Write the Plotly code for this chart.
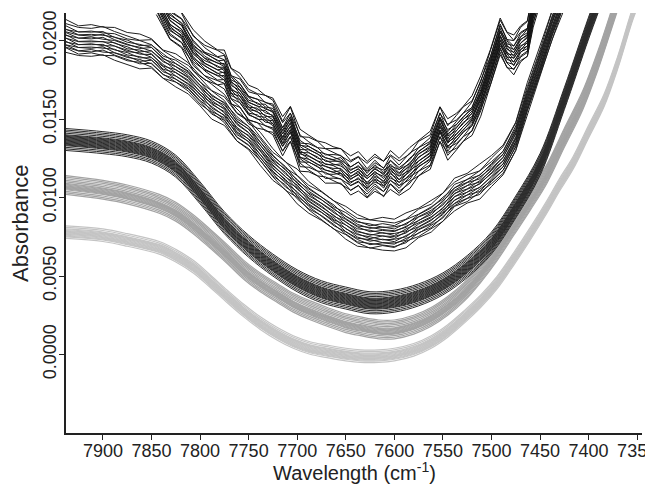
import plotly.graph_objects as go

# ---- Group 1 (top, noisy black spectra) ----
w1 = [7845, 7831, 7819, 7807, 7795, 7782, 7775, 7768, 7759, 7750, 7741, 7733, 7725, 7715,
      7707, 7697, 7688, 7679, 7671, 7663, 7655, 7645, 7637, 7628, 7620, 7611, 7604, 7595,
      7584, 7575, 7563, 7553, 7545, 7536, 7529, 7520, 7511, 7501, 7491, 7484, 7477, 7470,
      7463, 7457, 7450]
a1 = [0.0228, 0.0213, 0.0205, 0.0194, 0.0189, 0.0182, 0.0180, 0.0172, 0.0167, 0.0161,
      0.0156, 0.0154, 0.0150, 0.0140, 0.0146, 0.0132, 0.0128, 0.0124, 0.0123, 0.0119,
      0.0120, 0.0115, 0.0116, 0.0113, 0.0115, 0.0112, 0.0116, 0.0114, 0.0119, 0.0124,
      0.0131, 0.0145, 0.0138, 0.0142, 0.0146, 0.0154, 0.0164, 0.0183, 0.0201, 0.0195,
      0.0191, 0.0197, 0.0203, 0.0220, 0.0235]
j1a = [0.0001, -0.0001, 0.0002, 0.0000, -0.0002, 0.0001, 0.0002, -0.0001, 0.0000, -0.0002,
       0.0001, 0.0000, 0.0002, -0.0001, 0.0001, -0.0002, 0.0000, 0.0001, -0.0001, 0.0002,
       0.0000, -0.0001, 0.0001, -0.0002, 0.0001, 0.0000, 0.0002, -0.0001, 0.0000, 0.0001,
       -0.0001, 0.0002, -0.0001, 0.0000, 0.0001, -0.0002, 0.0001, 0.0000, 0.0002, -0.0001,
       0.0000, 0.0001, -0.0002, 0.0001, 0.0000]
j1b = [-0.0001, 0.0002, 0.0001, -0.0003, 0.0000, 0.0002, -0.0002, 0.0003, -0.0001, 0.0000,
       -0.0002, 0.0003, 0.0000, -0.0001, 0.0002, -0.0003, 0.0001, 0.0002, -0.0002, 0.0000,
       0.0003, -0.0001, -0.0002, 0.0002, 0.0000, 0.0003, -0.0002, 0.0001, -0.0003, 0.0002,
       0.0000, 0.0002, -0.0003, 0.0001, 0.0002, -0.0001, -0.0003, 0.0002, 0.0000, 0.0003,
       -0.0002, 0.0001, 0.0003, -0.0001, 0.0000]

# ---- Group 2 (second black band, moderately noisy) ----
w2 = [7938, 7925, 7912, 7900, 7888, 7875, 7862, 7850, 7838, 7825, 7812, 7800, 7788, 7775,
      7762, 7750, 7738, 7725, 7712, 7700, 7688, 7675, 7662, 7650, 7638, 7625, 7612, 7600,
      7588, 7575, 7562, 7550, 7538, 7525, 7512, 7500, 7488, 7475, 7463, 7450, 7438, 7426]
a2 = [0.0202, 0.0200, 0.0201, 0.0199, 0.0197, 0.0196, 0.0193, 0.0191, 0.0186, 0.0181,
      0.0175, 0.0169, 0.0161, 0.0155, 0.0146, 0.0139, 0.0131, 0.0122, 0.0113, 0.0107,
      0.0101, 0.0094, 0.0089, 0.0083, 0.0080, 0.0077, 0.0076, 0.0077, 0.0079, 0.0083,
      0.0089, 0.0094, 0.0101, 0.0106, 0.0111, 0.0116, 0.0124, 0.0140, 0.0162, 0.0186,
      0.0208, 0.0230]
j2a = [0.0001, 0.0000, -0.0001, 0.0001, 0.0001, -0.0001, 0.0000, 0.0001, -0.0001, 0.0000,
       0.0001, -0.0001, 0.0000, 0.0001, -0.0001, 0.0001, 0.0000, -0.0001, 0.0001, 0.0000,
       -0.0001, 0.0001, 0.0000, 0.0001, -0.0001, 0.0000, 0.0001, -0.0001, 0.0000, 0.0001,
       -0.0001, 0.0000, 0.0001, 0.0000, -0.0001, 0.0001, 0.0000, -0.0001, 0.0001, 0.0000,
       0.0001, -0.0001]
j2b = [-0.0001, 0.0001, 0.0000, 0.0002, -0.0001, 0.0000, -0.0002, 0.0001, 0.0002, -0.0001,
       0.0000, 0.0001, -0.0002, 0.0000, 0.0002, 0.0001, -0.0001, 0.0000, 0.0002, -0.0002,
       0.0000, 0.0001, 0.0002, -0.0001, 0.0000, 0.0002, -0.0001, 0.0000, -0.0002, 0.0001,
       0.0000, 0.0002, -0.0001, 0.0001, -0.0002, 0.0000, 0.0001, 0.0002, -0.0001, 0.0000,
       0.0002, -0.0001]

# ---- Group 3 (dense dark band, smooth) ----
w3 = [7938, 7900, 7875, 7850, 7825, 7800, 7775, 7750, 7725, 7700, 7675, 7650, 7625, 7600,
      7575, 7550, 7525, 7500, 7475, 7450, 7425, 7400, 7390]
a3 = [0.0137, 0.0135, 0.0133, 0.0129, 0.0120, 0.0103, 0.0084, 0.0069, 0.0057, 0.0047,
      0.0040, 0.0036, 0.0033, 0.0034, 0.0038, 0.0045, 0.0056, 0.0071, 0.0094, 0.0121,
      0.0163, 0.0208, 0.0225]

# ---- Group 4 (medium grey band) ----
w4 = [7938, 7900, 7875, 7842, 7825, 7807, 7790, 7772, 7755, 7738, 7720, 7704, 7686, 7669,
      7650, 7635, 7616, 7600, 7580, 7562, 7545, 7528, 7511, 7494, 7477, 7460, 7443, 7425,
      7406, 7390, 7374, 7365]
a4 = [0.0108, 0.0105, 0.0102, 0.0096, 0.0091, 0.0083, 0.0074, 0.0064, 0.0054, 0.0046,
      0.0039, 0.0033, 0.0028, 0.0024, 0.0020, 0.0018, 0.0016, 0.0016, 0.0019, 0.0024,
      0.0031, 0.0040, 0.0052, 0.0066, 0.0082, 0.0098, 0.0115, 0.0138, 0.0162, 0.0188,
      0.0218, 0.0235]

# ---- Group 5 (light grey band) ----
w5 = [7938, 7900, 7875, 7842, 7825, 7807, 7790, 7772, 7755, 7738, 7720, 7704, 7686, 7669,
      7650, 7635, 7616, 7600, 7580, 7562, 7545, 7528, 7511, 7494, 7477, 7460, 7443, 7430,
      7416, 7400, 7384, 7370, 7354, 7345]
a5 = [0.0078, 0.0076, 0.0073, 0.0068, 0.0063, 0.0056, 0.0047, 0.0037, 0.0028, 0.0020,
      0.0013, 0.0008, 0.0004, 0.0002, 0.0000, -0.0001, -0.0001, 0.0000, 0.0003, 0.0008,
      0.0015, 0.0024, 0.0034, 0.0046, 0.0061, 0.0077, 0.0094, 0.0108, 0.0122, 0.0142,
      0.0162, 0.0186, 0.0218, 0.0232]

# per-spectrum vertical offsets within each band, and jitter weights
off1 = [-0.0012, -0.0010, -0.0009, -0.0007, -0.0006, -0.0005, -0.0004, -0.0003, -0.0002, -0.0001,
        0.0000, 0.0001, 0.0002, 0.0003, 0.0004, 0.0005, 0.0006, 0.0008, 0.0010, 0.0012]
jw1a = [1.0, 0.8, 1.2, 0.7, 0.9, 1.1, 0.6, 1.0, 0.8, 1.2, 0.9, 0.7, 1.1, 1.0, 0.6, 0.9, 1.2, 0.8, 1.0, 0.7]
jw1b = [0.4, -0.5, 0.3, -0.4, 0.5, -0.3, 0.4, -0.5, 0.2, -0.4, 0.5, -0.3, 0.4, -0.2, 0.5, -0.4, 0.3, -0.5, 0.4, -0.3]
off2 = [-0.0010, -0.0008, -0.0007, -0.0006, -0.0005, -0.0004, -0.0003, -0.0002, -0.0001, 0.0000,
        0.0001, 0.0002, 0.0003, 0.0004, 0.0005, 0.0006, 0.0008, 0.0010]
jw2a = [1.0, 0.8, 1.2, 0.7, 0.9, 1.1, 0.6, 1.0, 0.8, 1.2, 0.9, 0.7, 1.1, 1.0, 0.6, 0.9, 1.2, 0.8]
jw2b = [0.5, -0.6, 0.4, -0.5, 0.6, -0.4, 0.5, -0.6, 0.3, -0.5, 0.6, -0.4, 0.5, -0.3, 0.6, -0.5, 0.4, -0.6]
off3 = [-0.0007, -0.0006, -0.0005, -0.0004, -0.00035, -0.0003, -0.00025, -0.0002, -0.00015, -0.0001,
        -0.00005, 0.0, 0.00005, 0.0001, 0.00015, 0.0002, 0.00025, 0.0003, 0.0004, 0.0005, 0.0006, 0.0007]
off4 = [-0.0006, -0.0005, -0.0004, -0.0003, -0.00025, -0.0002, -0.00015, -0.0001, -0.00005, 0.0,
        0.00005, 0.0001, 0.0002, 0.0003, 0.0004, 0.0005, 0.0006]
off5 = [-0.0004, -0.0003, -0.00025, -0.0002, -0.00015, -0.0001, -0.00005, 0.0, 0.00005, 0.0001,
        0.00015, 0.0002, 0.0003, 0.0004]

yticks = [0.0, 0.005, 0.010, 0.015, 0.020]
yticktext = ["0.0000", "0.0050", "0.0100", "0.0150", "0.0200"]
xticks = [7900, 7850, 7800, 7750, 7700, 7650, 7600, 7550, 7500, 7450, 7400, 7350]
x_title = "Wavelength (cm<sup>-1</sup>)"
y_title = "Absorbance"

fig = go.Figure()

def add_band(w, a, offs, color, width, shape, ja=None, jb=None, wa=None, wb=None):
    for k, o in enumerate(offs):
        if ja is not None:
            y = [v + o + wa[k] * p + wb[k] * q for v, p, q in zip(a, ja, jb)]
        else:
            y = [v + o for v in a]
        fig.add_trace(go.Scatter(x=w, y=y, mode="lines",
                                 line=dict(color=color, width=width, shape=shape),
                                 hoverinfo="skip", showlegend=False))

add_band(w5, a5, off5, "#c4c4c4", 1.2, "spline")
add_band(w4, a4, off4, "#a3a3a3", 1.2, "spline")
add_band(w3, a3, off3, "#2b2b2b", 1.0, "spline")
add_band(w2, a2, off2, "#1f1f1f", 1.0, "linear", j2a, j2b, jw2a, jw2b)
add_band(w1, a1, off1, "#151515", 1.0, "linear", j1a, j1b, jw1a, jw1b)

axis_common = dict(showgrid=False, zeroline=False, showline=True, linecolor="#222222",
                   linewidth=1.5, ticks="outside", ticklen=5, tickcolor="#222222",
                   tickwidth=1, automargin=False, tickfont=dict(size=18))

# the page body adds an 8px offset, so the figure is sized 8px smaller
fig.update_layout(
    template="none",
    width=645, height=484,
    margin=dict(l=58, r=11, t=5, b=59),
    paper_bgcolor="white", plot_bgcolor="white",
    font=dict(family="Liberation Sans, Arial, sans-serif", color="#222222", size=18),
    xaxis=dict(range=[7938, 7345], tickvals=xticks, ticklabeloverflow="allow",
               ticklabelstandoff=-4, **axis_common),
    yaxis=dict(range=[-0.005, 0.02176], tickvals=yticks, ticktext=yticktext, tickangle=-90,
               ticklabelstandoff=-4, **axis_common),
    annotations=[
        dict(text=x_title, xref="paper", yref="paper", x=0.5, y=-0.0905,
             xanchor="center", yanchor="middle", showarrow=False,
             font=dict(size=20, color="#222222")),
        dict(text=y_title, xref="paper", yref="paper", x=-0.0799, y=0.5,
             xanchor="center", yanchor="middle", showarrow=False, textangle=-90,
             font=dict(size=22, color="#222222")),
    ],
)

fig.write_html("out.html")
